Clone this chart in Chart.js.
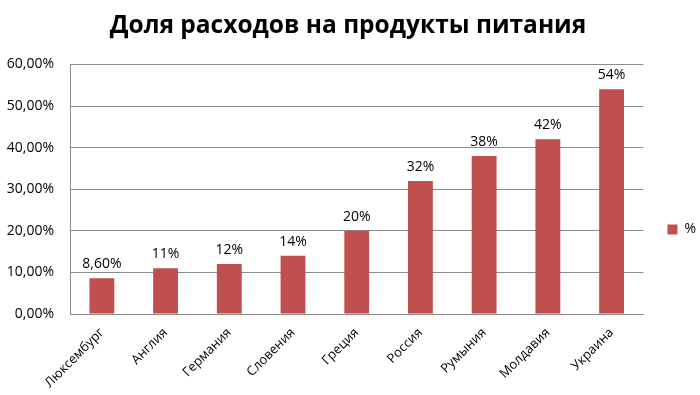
<!DOCTYPE html>
<html>
<head>
<meta charset="utf-8">
<script src="https://cdn.jsdelivr.net/npm/chart.js@4/dist/chart.umd.min.js"></script>
<style>
html,body{margin:0;padding:0;background:#fff;}
#wrap{width:700px;height:395px;}
</style>
</head>
<body>
<div id="wrap"><canvas id="c" width="700" height="395"></canvas></div>
<script>
const categories = ["Люксембург","Англия","Германия","Словения","Греция","Россия","Румыния","Молдавия","Украина"];
const values = [8.6, 11, 12, 14, 20, 32, 38, 42, 54];
const valueLabels = ["8,60%","11%","12%","14%","20%","32%","38%","42%","54%"];
const seriesName = "%";
const titleText = "Доля расходов на продукты питания";

const FONT = "'Open Sans', 'Liberation Sans', sans-serif";

const valueLabelPlugin = {
  id: 'valueLabels',
  afterDatasetsDraw(chart) {
    const ctx = chart.ctx;
    const meta = chart.getDatasetMeta(0);
    ctx.save();
    ctx.font = "14px " + FONT;
    ctx.fillStyle = "#000";
    ctx.textAlign = "center";
    ctx.textBaseline = "bottom";
    meta.data.forEach((bar, i) => {
      ctx.fillText(valueLabels[i], bar.x, bar.y - 7);
    });
    ctx.restore();
  }
};

// nudge the legend box to match the reference placement
const legendShift = {
  id: 'legendShift',
  beforeDraw(chart) {
    const lg = chart.legend;
    if (!lg || lg._shifted) return;
    const dx = 12, dy = 32;
    lg.left += dx; lg.right += dx;
    lg.top += dy; lg.bottom += dy;
    lg._shifted = true;
  }
};

new Chart(document.getElementById('c'), {
  type: 'bar',
  data: {
    labels: categories,
    datasets: [{
      label: seriesName,
      data: values,
      backgroundColor: '#C0504D',
      borderWidth: 0,
      barPercentage: 0.39,
      categoryPercentage: 1.0
    }]
  },
  options: {
    responsive: false,
    animation: false,
    layout: { padding: { left: 2, right: 6, top: 0, bottom: 0 } },
    plugins: {
      title: {
        display: true,
        text: titleText,
        color: '#000',
        font: { family: FONT, size: 24.5, weight: 'bold' },
        padding: { top: 11, bottom: 24 }
      },
      legend: {
        display: true,
        position: 'right',
        labels: {
          color: '#000',
          font: { family: FONT, size: 14 },
          boxWidth: 10,
          boxHeight: 10,
          padding: 12
        }
      },
      tooltip: { enabled: false }
    },
    scales: {
      x: {
        grid: { display: false, drawTicks: false },
        border: { display: true, color: '#8c8c8c', width: 1 },
        ticks: {
          color: '#000',
          font: { family: FONT, size: 13 },
          maxRotation: 45,
          minRotation: 45,
          padding: 11,
          autoSkip: false
        },
        afterFit(scale) { scale.height = 81; }
      },
      y: {
        min: 0,
        max: 60,
        grid: { color: '#8c8c8c', lineWidth: 1, drawTicks: false },
        border: { display: true, color: '#8c8c8c', width: 1 },
        ticks: {
          stepSize: 10,
          color: '#000',
          font: { family: FONT, size: 14 },
          padding: 16,
          callback: v => v.toFixed(2).replace('.', ',') + '%'
        },
        afterFit(scale) { scale.width = 68; }
      }
    }
  },
  plugins: [valueLabelPlugin, legendShift]
});
</script>
</body>
</html>
